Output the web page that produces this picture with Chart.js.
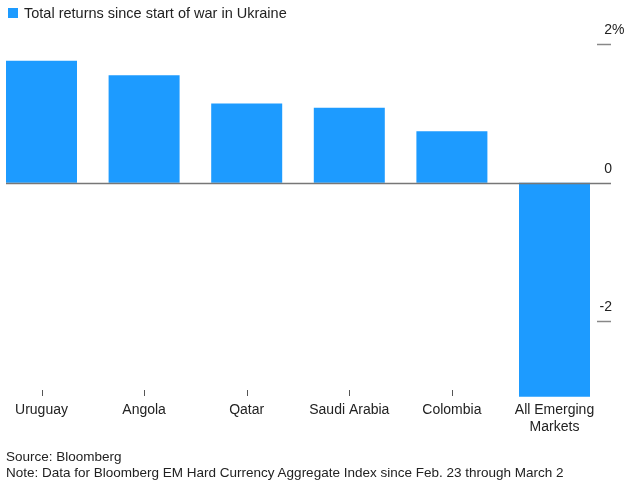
<!DOCTYPE html>
<html lang="en">
<head>
  <meta charset="UTF-8" />
  <title>Total returns since start of war in Ukraine</title>
  <script src="https://cdn.jsdelivr.net/npm/chart.js"></script>
  <style>
    body { margin: 0; background: #fff; font-family: "Liberation Sans", Arial, sans-serif; color: #222; overflow: hidden; }
    #wrap { position: relative; width: 633px; height: 486px; overflow: hidden; }
    /* canvas shifted left so the first category band starts off-page like the original */
    #plot { position: absolute; left: -10px; top: 0; width: 643px; height: 486px; }
    #legend { position: absolute; left: 8px; top: 4px; font-size: 14.5px; line-height: 18px; }
    #legend span { display: inline-block; width: 10px; height: 10px; background: #1d9bff; margin-right: 6px; }
    #footer { position: absolute; left: 6px; top: 449px; font-size: 13.5px; line-height: 15.5px; }
  </style>
</head>
<body>
  <div id="wrap">
    <div id="plot"><canvas id="chart"></canvas></div>
    <div id="legend"><span></span>Total returns since start of war in Ukraine</div>
    <div id="footer">Source: Bloomberg<br>Note: Data for Bloomberg EM Hard Currency Aggregate Index since Feb. 23 through March 2</div>
  </div>

  <script>
    const categories = ['Uruguay', 'Angola', 'Qatar', 'Saudi Arabia', 'Colombia', ['All Emerging', 'Markets']];
    const returns = [1.76, 1.55, 1.14, 1.08, 0.74, -3.09];
    const yTicks = [2, 0, -2];
    const yTickLabels = ['2', '0', '-2'];

    const OFF = 10; // canvas offset vs page

    // zero line, right hand ticks, little category ticks
    const axisDecor = {
      id: 'axisDecor',
      afterDatasetsDraw(chart) {
        const ctx = chart.ctx;
        const x = chart.scales.x;
        const y = chart.scales.y;
        ctx.save();
        const zy = Math.round(y.getPixelForValue(0)) + 0.5;
        ctx.strokeStyle = '#777';
        ctx.lineWidth = 1.5;
        ctx.beginPath();
        ctx.moveTo(6 + OFF, zy);
        ctx.lineTo(611 + OFF, zy);
        ctx.stroke();

        ctx.font = '14px "Liberation Sans", Arial, sans-serif';
        ctx.fillStyle = '#222';
        ctx.textBaseline = 'middle';
        yTicks.forEach((v, i) => {
          const py = Math.round(y.getPixelForValue(v)) + 0.5;
          if (v !== 0) {
            ctx.strokeStyle = '#888';
            ctx.beginPath();
            ctx.moveTo(597 + OFF, py);
            ctx.lineTo(611 + OFF, py);
            ctx.stroke();
          }
          ctx.textAlign = 'right';
          ctx.fillText(yTickLabels[i], 612 + OFF, py - 14);
          if (i === 0) {
            ctx.textAlign = 'left';
            ctx.fillText('%', 612 + OFF, py - 14);
          }
        });

        ctx.strokeStyle = '#555';
        ctx.lineWidth = 1;
        categories.forEach((c, i) => {
          if (i === categories.length - 1) return;
          const px = Math.round(x.getPixelForValue(i)) + 0.5;
          ctx.beginPath();
          ctx.moveTo(px, 390);
          ctx.lineTo(px, 396);
          ctx.stroke();
        });
        ctx.restore();
      }
    };

    new Chart(document.getElementById('chart'), {
      type: 'bar',
      data: {
        labels: categories,
        datasets: [{
          label: 'Total returns since start of war in Ukraine',
          data: returns,
          backgroundColor: '#1d9bff',
          borderWidth: 0,
          categoryPercentage: 1,
          barPercentage: 0.692
        }]
      },
      options: {
        responsive: true,
        maintainAspectRatio: false,
        animation: false,
        layout: { padding: { top: 44, bottom: 28.5, left: 0.2, right: 27.2 } },
        plugins: {
          legend: { display: false },
          tooltip: { enabled: false }
        },
        scales: {
          x: {
            grid: { display: false, drawTicks: false },
            border: { display: false },
            ticks: {
              color: '#222',
              font: { family: '"Liberation Sans", Arial, sans-serif', size: 14 },
              padding: 4,
              maxRotation: 0,
              autoSkip: false
            },
            afterFit(s) { s.height = 60; }
          },
          y: {
            display: false,
            min: -3.1,
            max: 2
          }
        }
      },
      plugins: [axisDecor]
    });
  </script>
</body>
</html>
